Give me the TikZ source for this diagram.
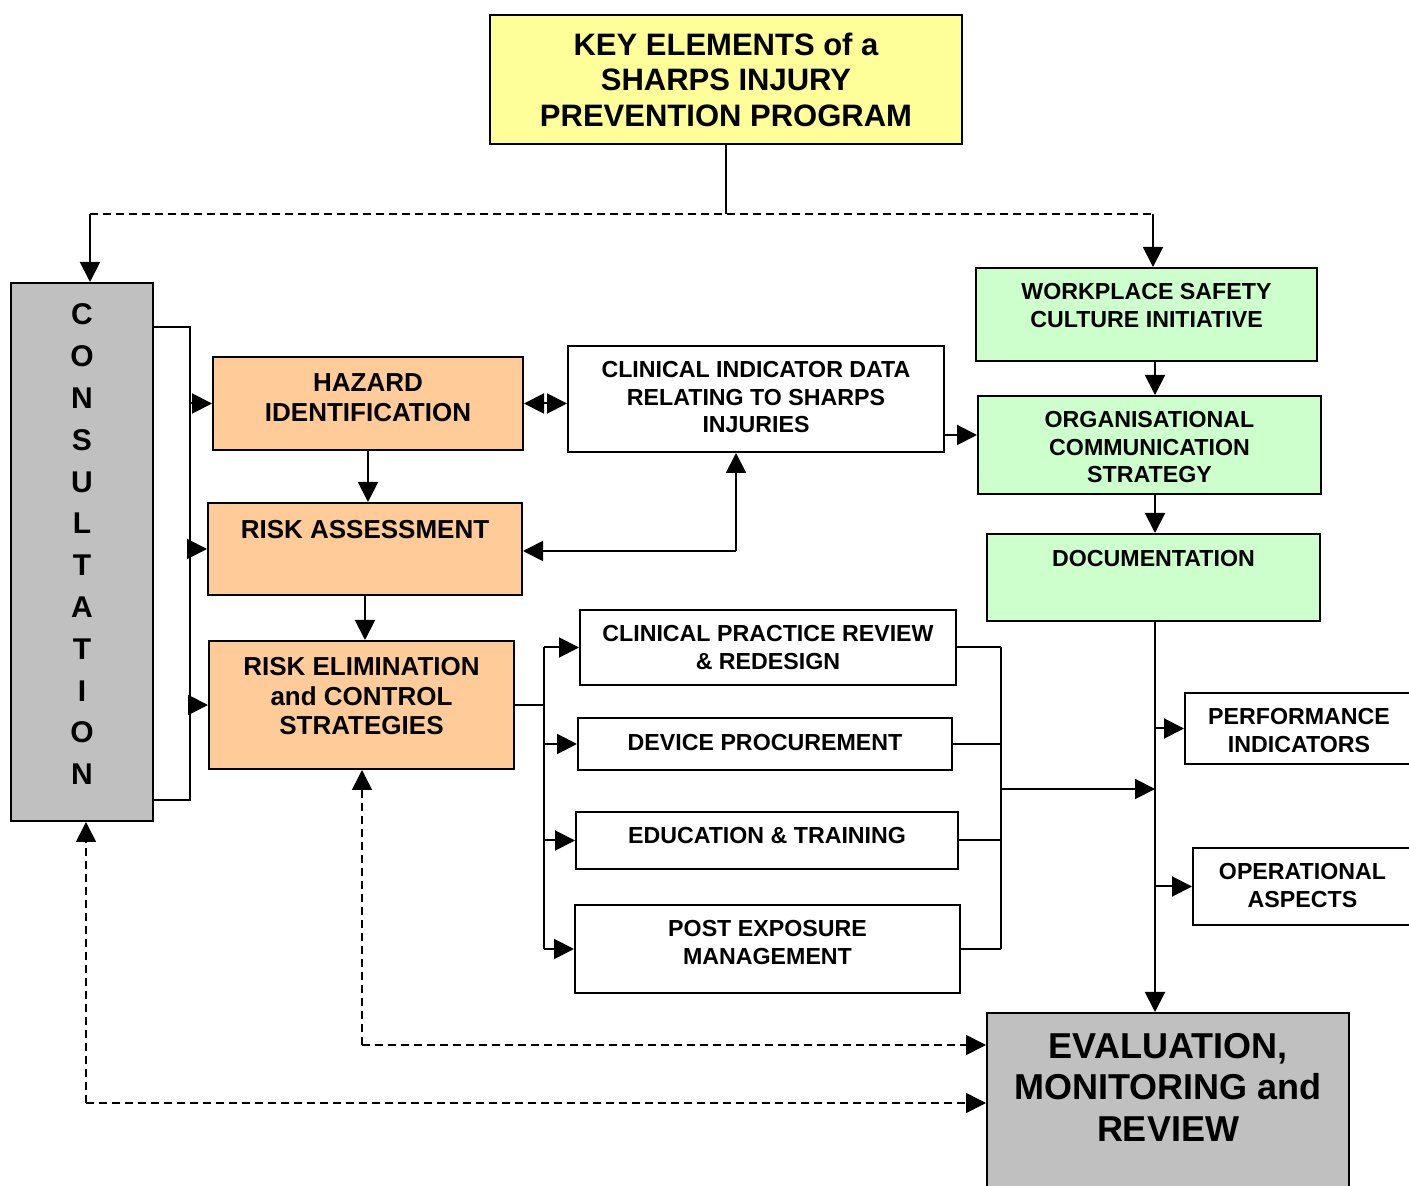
\documentclass[tikz,border=0pt]{standalone}
\usepackage{fontspec}
\setmainfont{Liberation Sans}
\usepackage{xcolor}
\usetikzlibrary{arrows.meta, positioning, calc}

\definecolor{keyyellow}{HTML}{FFFF99}
\definecolor{riskorange}{HTML}{FFCC99}
\definecolor{actgreen}{HTML}{CCFFCC}
\definecolor{evalgrey}{HTML}{C0C0C0}

% box contents: width, height, top pad, text
\newcommand{\boxtext}[4]{\parbox[c][#2][t]{#1}{\vspace*{#3}\centering #4\par}}
\newcommand{\smallfnt}{\fontsize{11.6pt}{13.75pt}\selectfont\bfseries}
\newcommand{\midfnt}{\fontsize{13pt}{14.75pt}\selectfont\bfseries}
\newcommand{\bigfnt}{\fontsize{15.5pt}{17.75pt}\selectfont\bfseries}
\newcommand{\evalfnt}{\fontsize{18pt}{20.75pt}\selectfont\bfseries}
\newcommand{\letterfnt}{\fontsize{15pt}{20.9pt}\selectfont\bfseries}

\begin{document}
\begin{tikzpicture}[x=0.5pt, y=-0.5pt,
    box/.style={draw, line width=1pt, inner sep=0pt},
    keybox/.style={box, fill=keyyellow},
    riskbox/.style={box, fill=riskorange},
    actbox/.style={box, fill=actgreen},
    greybox/.style={box, fill=evalgrey},
    link/.style={line width=1pt},
    arr/.style={line width=1pt, -{Triangle[length=10pt,width=10pt]}},
    dblarr/.style={line width=1pt, {Triangle[length=10pt,width=10pt]}-{Triangle[length=10pt,width=10pt]}},
    dasharr/.style={line width=0.8pt, dash pattern=on 4pt off 2.5pt, -{Triangle[length=10pt,width=10pt]}}]
    \useasboundingbox (0,0) rectangle (1409,1186);

    % Title
    \node[keybox] (title) at (726,79.5)
        {\boxtext{236pt}{64.5pt}{9pt}{\bigfnt KEY ELEMENTS of a\\ SHARPS INJURY\\ PREVENTION PROGRAM}};

    % Consultation column
    \node[greybox] (consult) at (82,552)
        {\boxtext{71pt}{269pt}{10.5pt}{\letterfnt C\\O\\N\\S\\U\\L\\T\\A\\T\\I\\O\\N}};

    % Risk management steps
    \node[riskbox] (hazard) at (368,403.5)
        {\boxtext{155pt}{46.5pt}{8.35pt}{\midfnt HAZARD\\ IDENTIFICATION}};
    \node[riskbox] (riskass) at (365,549)
        {\boxtext{157pt}{46pt}{8.85pt}{\midfnt RISK ASSESSMENT}};
    \node[riskbox] (riskelim) at (361.5,705)
        {\boxtext{152.5pt}{64pt}{8.35pt}{\midfnt RISK ELIMINATION\\ and CONTROL\\ STRATEGIES}};

    % Clinical data
    \node[box, fill=white] (clinical) at (756,399)
        {\boxtext{188pt}{53pt}{7.85pt}{\smallfnt CLINICAL INDICATOR DATA\\ RELATING TO SHARPS\\ INJURIES}};

    % Organisational boxes
    \node[actbox] (workplace) at (1146.5,314.5)
        {\boxtext{170.5pt}{46.5pt}{7.85pt}{\smallfnt WORKPLACE SAFETY\\ CULTURE INITIATIVE}};
    \node[actbox] (orgcomm) at (1149.5,445)
        {\boxtext{171.5pt}{49pt}{7.85pt}{\smallfnt ORGANISATIONAL\\ COMMUNICATION\\ STRATEGY}};
    \node[actbox] (docu) at (1153.5,577.5)
        {\boxtext{166.5pt}{43.5pt}{8.35pt}{\smallfnt DOCUMENTATION}};

    % Control strategies
    \node[box] (practice) at (768,647.5)
        {\boxtext{188pt}{37.5pt}{7.85pt}{\smallfnt CLINICAL PRACTICE REVIEW\\ \& REDESIGN}};
    \node[box] (device) at (765,744)
        {\boxtext{187pt}{26pt}{8.35pt}{\smallfnt DEVICE PROCUREMENT}};
    \node[box] (educ) at (767,840.5)
        {\boxtext{191pt}{28.5pt}{7.85pt}{\smallfnt EDUCATION \& TRAINING}};
    \node[box] (postexp) at (767.5,949)
        {\boxtext{192.5pt}{44pt}{7.85pt}{\smallfnt POST EXPOSURE\\ MANAGEMENT}};

    % Evaluation side
    \node[box] (perf) at (1299,728.5)
        {\boxtext{114pt}{35.5pt}{7.85pt}{\smallfnt PERFORMANCE\\ INDICATORS}};
    \node[box] (oper) at (1302.5,886.5)
        {\boxtext{109.5pt}{38.5pt}{7.85pt}{\smallfnt OPERATIONAL\\ ASPECTS}};
    \node[greybox] (evalrev) at (1168,1106.5)
        {\boxtext{181pt}{93.5pt}{10pt}{\evalfnt EVALUATION,\\ MONITORING and\\ REVIEW}};

    % Junction points
    \coordinate (split) at (726,214);
    \coordinate (lftop) at (90,214);
    \coordinate (rgtop) at (1153,214);
    \coordinate (ctop) at (190,327);
    \coordinate (cbot) at (190,800);
    \coordinate (cijoin) at (736,551);
    \coordinate (c2o) at ([yshift=-18pt]clinical.east);
    \coordinate (rbus) at (544,705);
    \coordinate (lbus) at (1001,789);
    \coordinate (spine) at (1155,789);
    \coordinate (dloopa) at (362,1045);
    \coordinate (dloopb) at (86,1103);

    % Top distribution
    \draw[link] (title.south) -- (split);
    \draw[line width=0.8pt, dash pattern=on 4pt off 2.5pt] (lftop) -- (rgtop);
    \draw[arr] (lftop) -- (lftop |- consult.north);
    \draw[arr] (rgtop) -- (rgtop |- workplace.north);

    % Consultation bracket
    \draw[link] (consult.east |- ctop) -- (ctop) -- (cbot) -- (consult.east |- cbot);
    \draw[arr] (ctop |- hazard.west) -- (hazard.west);
    \draw[arr] (ctop |- riskass.west) -- (riskass.west);
    \draw[arr] (ctop |- riskelim.west) -- (riskelim.west);

    % Risk chain
    \draw[arr] (hazard.south) -- (hazard.south |- riskass.north);
    \draw[arr] (riskass.south) -- (riskass.south |- riskelim.north);
    \draw[dblarr] (hazard.east) -- (hazard.east -| clinical.west);
    \draw[arr] (cijoin) -- (cijoin |- clinical.south);
    \draw[arr] (cijoin) -- (cijoin -| riskass.east);
    \draw[arr] (c2o) -- (c2o -| orgcomm.west);

    % Organisational chain
    \draw[arr] (spine |- workplace.south) -- (spine |- orgcomm.north);
    \draw[arr] (spine |- orgcomm.south) -- (spine |- docu.north);
    \draw[arr] (spine |- docu.south) -- (spine |- evalrev.north);
    \draw[arr] (spine |- perf.west) -- (perf.west);
    \draw[arr] (spine |- oper.west) -- (oper.west);

    % Control strategy fan out
    \draw[link] (riskelim.east) -- (rbus);
    \draw[link] (rbus |- practice.west) -- (rbus |- postexp.west);
    \draw[arr] (rbus |- practice.west) -- (practice.west);
    \draw[arr] (rbus |- device.west) -- (device.west);
    \draw[arr] (rbus |- educ.west) -- (educ.west);
    \draw[arr] (rbus |- postexp.west) -- (postexp.west);

    % Control strategies gather in
    \draw[link] (practice.east) -- (practice.east -| lbus);
    \draw[link] (device.east) -- (device.east -| lbus);
    \draw[link] (educ.east) -- (educ.east -| lbus);
    \draw[link] (postexp.east) -- (postexp.east -| lbus);
    \draw[link] (lbus |- practice.east) -- (lbus |- postexp.east);
    \draw[arr] (lbus) -- (spine);

    % Feedback loops (dashed)
    \draw[dasharr] (dloopa) -- (dloopa |- riskelim.south);
    \draw[dasharr] (dloopa) -- (dloopa -| evalrev.west);
    \draw[dasharr] (dloopb) -- (dloopb |- consult.south);
    \draw[dasharr] (dloopb) -- (dloopb -| evalrev.west);
\end{tikzpicture}
\end{document}
